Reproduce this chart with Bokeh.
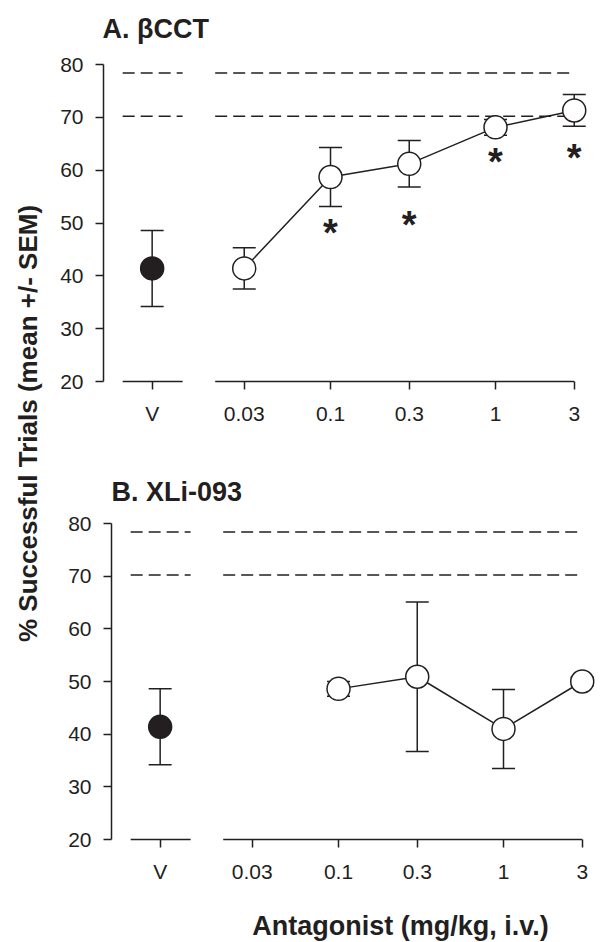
import math
from bokeh.plotting import figure
from bokeh.layouts import row, column
from bokeh.models import ColumnDataSource, FixedTicker, Whisker, TeeHead
from bokeh.core.properties import value
from bokeh.embed import file_html
from bokeh.resources import INLINE

# ---------------- data ----------------
vehicle_x = 0.0083            # position of the vehicle ("V") group on the dose axis
vehicle_label = "V"
doses = [0.03, 0.1, 0.3, 1, 3]
dose_labels = ["0.03", "0.1", "0.3", "1", "3"]

vehicle_mean = 41.4
vehicle_sem = 7.2

bcct_doses = [0.03, 0.1, 0.3, 1, 3]
bcct_mean = [41.4, 58.7, 61.2, 68.1, 71.3]
bcct_sem = [3.9, 5.6, 4.4, 1.5, 3.0]
bcct_star_doses = [0.1, 0.3, 1, 3]
bcct_star_y = [49.7, 51.1, 63.0, 63.9]

xli_doses = [0.1, 0.3, 1, 3]
xli_mean = [48.6, 50.9, 41.0, 50.0]
xli_sem = [1.4, 14.2, 7.5, 0.8]

ref_levels = [70.2, 78.4]
y_ticks = [20, 30, 40, 50, 60, 70, 80]

vehicle_span = (0.0055, 0.0127)
dose_span = (0.02, 3)

title_a = "A. βCCT"
title_b = "B.  XLi-093"
x_title = "Antagonist (mg/kg, i.v.)"
y_title = "% Successful Trials (mean +/- SEM)"

# ---------------- style ----------------
INK = "#231f20"
FONT = "Liberation Sans"
PX_PER_DECADE = 165.0
X_LO = 0.004209
YLAB_W = 48
COL_W = 552
TOTAL_H = 941


def text_fig(w, h):
    f = figure(frame_width=w, frame_height=h, x_range=(0, w), y_range=(0, h),
               x_axis_location=None, y_axis_location=None, min_border=0,
               output_backend="svg", toolbar_location=None, frame_align=False)
    f.outline_line_color = None
    f.grid.visible = False
    return f


def make_panel(frame_w, frame_h, border_left, border_top, border_bottom,
               d_x, d_mean, d_sem, star_x=None, star_y=None):
    x_hi = X_LO * 10 ** (frame_w / PX_PER_DECADE)
    p = figure(x_axis_type="log", x_range=(X_LO, x_hi), y_range=(20, 80),
               frame_width=frame_w, frame_height=frame_h,
               min_border_left=border_left, min_border_right=0,
               min_border_top=border_top, min_border_bottom=border_bottom,
               output_backend="svg", toolbar_location=None, frame_align=False)
    p.outline_line_color = None
    p.xgrid.visible = False
    p.ygrid.visible = False

    ya = p.yaxis[0]
    ya.ticker = FixedTicker(ticks=y_ticks)
    ya.major_tick_in = 0
    ya.major_tick_out = 8
    ya.minor_tick_in = 0
    ya.minor_tick_out = 0
    ya.axis_line_width = 1.5
    ya.axis_line_color = INK
    ya.major_tick_line_width = 1.5
    ya.major_tick_line_color = INK
    ya.major_label_text_font = FONT
    ya.major_label_text_font_size = "21px"
    ya.major_label_text_color = INK
    ya.major_label_standoff = 12

    xa = p.xaxis[0]
    xa.ticker = FixedTicker(ticks=[vehicle_x] + doses)
    overrides = {vehicle_x: vehicle_label}
    for d, lab in zip(doses, dose_labels):
        overrides[d] = lab
    xa.major_label_overrides = overrides
    xa.axis_line_color = None
    xa.major_tick_in = 0
    xa.major_tick_out = 8
    xa.minor_tick_in = 0
    xa.minor_tick_out = 0
    xa.major_tick_line_width = 1.5
    xa.major_tick_line_color = INK
    xa.major_label_text_font = FONT
    xa.major_label_text_font_size = "21px"
    xa.major_label_text_color = INK
    xa.major_label_standoff = 12

    spans = [vehicle_span, dose_span]
    p.segment(x0=[s[0] for s in spans], y0=[20, 20],
              x1=[s[1] for s in spans], y1=[20, 20],
              line_color=INK, line_width=1.5, level="overlay")
    rx0, rx1, ry = [], [], []
    for lev in ref_levels:
        for s in spans:
            rx0.append(s[0]); rx1.append(s[1]); ry.append(lev)
    p.segment(x0=rx0, y0=ry, x1=rx1, y1=ry, line_color=INK, line_width=1.5,
              line_dash="12 6")

    ex = [vehicle_x] + list(d_x)
    em = [vehicle_mean] + list(d_mean)
    es = [vehicle_sem] + list(d_sem)
    src = ColumnDataSource(dict(x=ex,
                                upper=[m + s for m, s in zip(em, es)],
                                lower=[m - s for m, s in zip(em, es)]))
    p.add_layout(Whisker(source=src, base="x", upper="upper", lower="lower",
                         line_color=INK, line_width=1.5, level="underlay",
                         upper_head=TeeHead(size=23, line_color=INK, line_width=1.5),
                         lower_head=TeeHead(size=23, line_color=INK, line_width=1.5)))

    p.line(x=list(d_x), y=list(d_mean), line_color=INK, line_width=1.5)
    p.scatter(x=list(d_x), y=list(d_mean), marker="circle", size=23,
              fill_color="white", line_color=INK, line_width=1.5)
    p.scatter(x=[vehicle_x], y=[vehicle_mean], marker="circle", size=23,
              fill_color=INK, line_color=INK, line_width=1.5)

    if star_x is not None:
        p.text(x=star_x, y=star_y, text=["*"] * len(star_x),
               text_font=value(FONT), text_font_size="38px",
               text_font_style="bold", text_color=INK,
               text_align="center", text_baseline="middle", y_offset=8)
    return p


# panel A title (canvas rows 0-50, baseline at 28)
ta = text_fig(COL_W, 50)
ta.text(x=[54], y=[22], text=[title_a], text_align="left",
        text_baseline="alphabetic", text_font=value(FONT),
        text_font_size="27px", text_font_style="bold", text_color=INK)

# panel A (rows 50-433, frame 64-381)
top = make_panel(497, 317, 55, 14, 52,
                 bcct_doses, bcct_mean, bcct_sem, bcct_star_doses, bcct_star_y)

# panel B title (rows 433-508, baseline at 491)
tb = text_fig(COL_W, 75)
tb.text(x=[63], y=[17], text=[title_b], text_align="left",
        text_baseline="alphabetic", text_font=value(FONT),
        text_font_size="27px", text_font_style="bold", text_color=INK)

# panel B (rows 508-885, frame 523-839)
bot = make_panel(489, 316, 63, 15, 46, xli_doses, xli_mean, xli_sem)

# x axis title, centred under the dose part of the axis (rows 885-941)
xl = text_fig(COL_W, 56)
xl.text(x=[352], y=[16], text=[x_title], text_align="center",
        text_baseline="alphabetic", text_font=value(FONT),
        text_font_size="27px", text_font_style="bold", text_color=INK)

# shared y-axis title
ylab = text_fig(YLAB_W, TOTAL_H)
ylab.text(x=[27], y=[TOTAL_H - 423], text=[y_title], angle=math.pi / 2,
          text_align="center", text_baseline="alphabetic",
          text_font=value(FONT), text_font_size="26px",
          text_font_style="bold", text_color=INK)

layout = row(ylab, column(ta, top, tb, bot, xl))
open("out.html", "w").write(file_html(layout, INLINE))
